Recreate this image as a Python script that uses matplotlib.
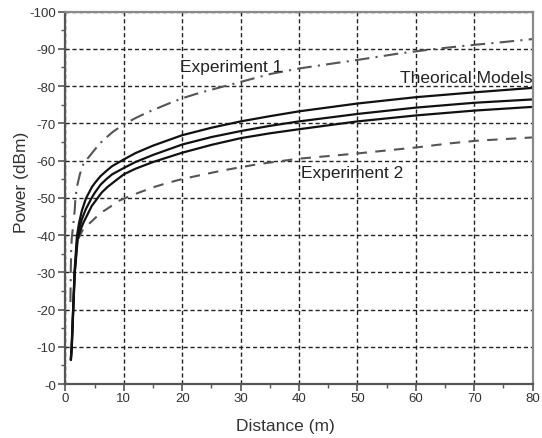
import matplotlib
matplotlib.use("Agg")
import matplotlib.pyplot as plt
from matplotlib.ticker import MultipleLocator, FuncFormatter

plt.rcParams["font.family"] = ["Liberation Sans", "DejaVu Sans"]

# Theoretical path-loss models (distance in m, received power in dBm)
model_hi_d = [0.9, 1.05, 1.3, 1.55, 1.95, 2.3, 2.8, 3.5, 4.5, 5, 6, 7, 8, 10, 12, 15, 20, 25, 30,
              35, 40, 50, 60, 70, 80]
model_hi_p = [-6.5, -10, -20, -30, -39.5, -43, -46.5, -49.8, -52.8, -53.9, -55.8, -57.2, -58.5,
              -60.3, -62.0, -64, -66.8, -68.8, -70.5, -71.9, -73.2, -75.3, -77, -78.3, -79.5]

model_mid_d = [0.92, 1.07, 1.32, 1.58, 2.05, 2.4, 2.8, 3.5, 4.5, 5, 6, 7, 8, 10, 12, 15, 20, 25,
               30, 35, 40, 50, 60, 70, 80]
model_mid_p = [-6.5, -10, -20, -30, -39.5, -42, -44.2, -47, -50, -51.3, -53.5, -55.0, -56.3, -58,
               -59.6, -61.5, -64.3, -66.3, -67.9, -69.3, -70.5, -72.5, -74.2, -75.5, -76.4]

model_lo_d = [0.94, 1.09, 1.34, 1.6, 2.1, 2.6, 3.1, 4.5, 6.2, 7.2, 8.5, 10, 12, 15, 20, 25, 30, 35,
              40, 50, 60, 70, 80]
model_lo_p = [-6.5, -10, -20, -30, -39, -41.5, -43.4, -47.8, -51.4, -52.9, -54.5, -56.3, -57.8,
              -59.6, -62.1, -64.2, -66, -67.3, -68.4, -70.5, -72.1, -73.4, -74.4]

# Measurement campaign 1
exp1_d = [0.85, 0.9, 1.0, 1.1, 1.4, 1.6, 1.7, 2.0, 2.5, 3.1, 4.8, 5.9, 7.0, 8.2, 10, 12, 14, 16, 18,
          20, 22, 24, 30, 35, 40, 46, 50, 57, 63, 69, 75, 80]
exp1_p = [-22, -30, -37, -39.5, -43.8, -47, -50, -53.2, -56.5, -59.2, -62.5, -64.6, -66.2, -67.8,
          -69.7, -71.4, -72.9, -74.2, -75.5, -76.7, -77.7, -78.6, -81.1, -83.2, -84.7, -86.1, -87,
          -88.7, -89.9, -90.9, -91.8, -92.6]

# Measurement campaign 2
exp2_d = [2.2, 3, 4.5, 6, 7.3, 9.3, 11.6, 13.3, 15, 17.5, 20.2, 23.5, 26.5, 30, 33.3, 36.7, 40,
          45.8, 50, 54.4, 60, 65.8, 70.3, 80]
exp2_p = [-39, -41.5, -43.7, -45.9, -47.2, -49.3, -50.8, -51.8, -52.8, -54, -55.1, -56.2, -57.2,
          -58.2, -59.1, -59.8, -60.5, -61.3, -61.9, -62.6, -63.5, -64.6, -65.3, -66.2]

fig = plt.figure(figsize=(5.42, 4.39), dpi=100)
ax = fig.add_axes([0.1208, 0.1230, 0.8620, 0.8485])

ax.plot(exp1_d, exp1_p, color="#555555", lw=1.5, linestyle=(0, (7, 3, 1, 3)))
ax.plot(exp2_d, exp2_p, color="#555555", lw=1.5, linestyle=(0, (5, 4)))
for d, p in [(model_hi_d, model_hi_p), (model_mid_d, model_mid_p), (model_lo_d, model_lo_p)]:
    ax.plot(d, p, color="#111111", lw=1.6, solid_capstyle="round", solid_joinstyle="round")

ax.set_xlim(0, 80)
ax.set_ylim(0, -100)
ax.xaxis.set_major_locator(MultipleLocator(10))
ax.xaxis.set_minor_locator(MultipleLocator(5))
ax.yaxis.set_major_locator(MultipleLocator(10))
ax.yaxis.set_minor_locator(MultipleLocator(5))
ax.yaxis.set_major_formatter(FuncFormatter(lambda y, _: f"-{abs(int(round(y)))}"))

ax.grid(True, which="major", color="#222222", lw=1.0, linestyle=(0, (3, 2)))
ax.tick_params(which="major", direction="out", length=5, width=1.2, color="#555555",
               labelsize=9.5, labelcolor="#333333")
ax.tick_params(which="minor", direction="out", length=3, width=1.0, color="#555555")
ax.tick_params(axis="x", pad=1)
ax.tick_params(axis="y", pad=2)

for side in ("left", "bottom"):
    ax.spines[side].set_color("#555555")
    ax.spines[side].set_linewidth(1.6)
for side in ("top", "right"):
    ax.spines[side].set_color("#8a8a8a")
    ax.spines[side].set_linewidth(1.6)

ax.set_xlabel("Distance (m)", fontsize=12.5, color="#333333")
ax.set_ylabel("Power (dBm)", fontsize=12.5, color="#333333")
ax.xaxis.label.set_va("center")
ax.yaxis.label.set_va("center")
ax.xaxis.set_label_coords(0.470, -0.112)
ax.yaxis.set_label_coords(-0.095, 0.544)

ax.text(19.6, -85.3, "Experiment 1", fontsize=12.5, color="#222222", ha="left", va="center")
ax.text(80, -82.3, "Theorical Models", fontsize=12.5, color="#222222", ha="right", va="center")
ax.text(40.4, -56.9, "Experiment 2", fontsize=12.5, color="#222222", ha="left", va="center")

fig.savefig("out.png", dpi=100)
